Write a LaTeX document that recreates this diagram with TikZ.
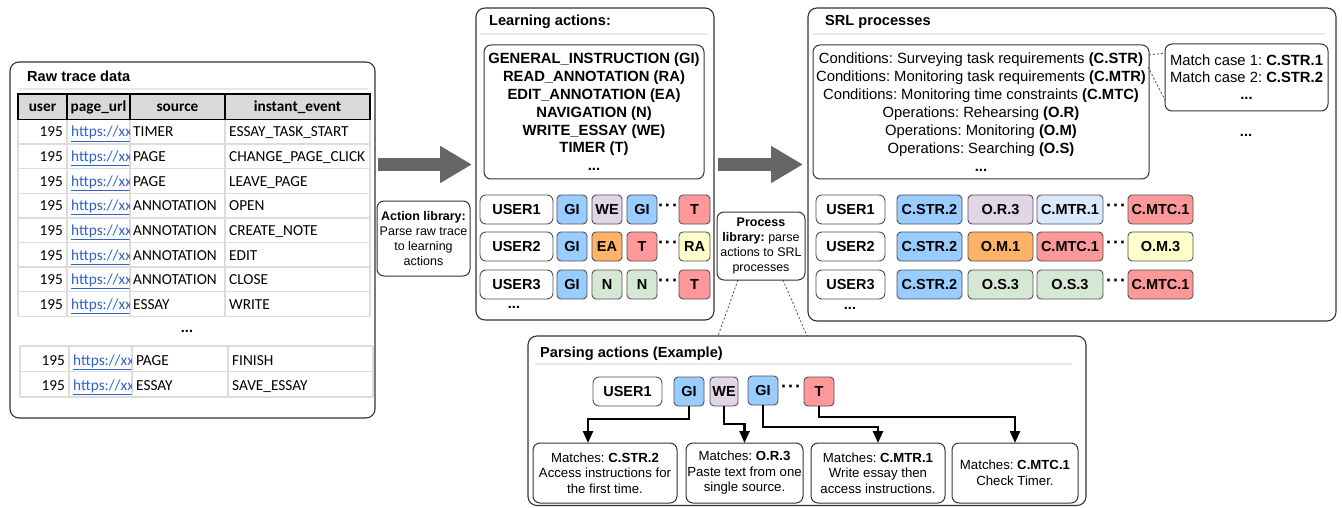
\documentclass[tikz,border=0pt]{standalone}
\usepackage{fontspec}
\setmainfont{Liberation Sans}
\newfontfamily\calibri{Carlito}
\usetikzlibrary{arrows.meta,calc}
\frenchspacing
\definecolor{cblue}{HTML}{99CCFF}
\definecolor{cpurple}{HTML}{E1D5E7}
\definecolor{corange}{HTML}{FFB366}
\definecolor{cred}{HTML}{FF9999}
\definecolor{cyellow}{HTML}{FFFFCC}
\definecolor{cgreen}{HTML}{D5E8D4}
\definecolor{clblue}{HTML}{DAE8FC}
\definecolor{cborder}{HTML}{333333}
\definecolor{cgrid}{HTML}{DCDCDC}
\definecolor{chead}{HTML}{D9D9D9}
\definecolor{clink}{HTML}{2F62C9}
\definecolor{carrow}{HTML}{666666}
\newcommand{\fsz}[2]{\fontsize{#1}{#2}\selectfont}
\newcommand{\rbox}[7]{\node[#2, minimum width={(#5)-(#3)}, minimum height={(#6)-(#4)}] (#1) at ({((#3)+(#5))/2},{((#4)+(#6))/2}) {#7};}
\newcommand{\mdots}{·\kern1pt·\kern1pt·}
\tikzset{
  panel/.style={draw=cborder, line width=1.1pt, rounded corners=9pt, fill=white, inner sep=0pt, outer sep=0pt},
  inbox/.style={draw=cborder, line width=1pt, rounded corners=7pt, fill=white, align=center, inner sep=0pt, outer sep=0pt},
  chip/.style={draw=cborder!85, line width=0.9pt, rounded corners=4pt, font=\fsz{14.5}{16}\bfseries, inner sep=0pt, outer sep=0pt},
  usr/.style={chip, fill=white, rounded corners=6pt},
  ptitle/.style={anchor=west, font=\fsz{14.6}{17}\bfseries, inner sep=0pt},
  tline/.style={line width=2pt, draw=black!9},
  tcell/.style={font=\calibri\fsz{15.3}{17}, inner sep=0pt},
  hcell/.style={font=\calibri\fsz{15.3}{17}\bfseries, inner sep=0pt, anchor=base},
  ell/.style={font=\fsz{14.5}{16}\bfseries, inner sep=0pt},
  mell/.style={font=\fsz{18}{18}\bfseries, inner sep=0pt},
  gridl/.style={draw=cgrid, line width=1.3pt},
  bigarr/.style={draw=carrow, line width=13pt, -{Triangle[length=32pt,width=35pt]}},
  arr/.style={line width=2.4pt, -{Triangle[length=12pt,width=10pt]}},
  dotl/.style={draw=black!70, line width=0.8pt, dash pattern=on 2pt off 2pt},
}
\begin{document}
\begin{tikzpicture}[x=1pt,y=-1pt]
\useasboundingbox (0,0) rectangle (1342,508);
% ---------------- Raw trace data
\rbox{raw}{panel}{10}{62}{375}{418}{}
\node[ptitle] (rawt) at (27,76) {Raw trace data};
\draw[tline] (18,89) -- (368,89);
\foreach \x in {18,67,130,225,370} \draw[gridl] (\x,119.5) -- (\x,316.3);
\foreach \k in {1,...,8} \draw[gridl] (18,{119.5+\k*24.6}) -- (370,{119.5+\k*24.6});
\draw[fill=chead, line width=1.5pt] (18,94) rectangle (370,119.5);
\foreach \x in {67,130,225} \draw[line width=1.5pt] (\x,94) -- (\x,119.5);
\node[hcell] (h1) at (42.5,112) {user};
\node[hcell] (h2) at (98.5,112) {page\_url};
\node[hcell] (h3) at (177.5,112) {source};
\node[hcell] (h4) at (297.5,112) {instant\_event};
\foreach \k/\s/\e in {1/TIMER/ESSAY\_TASK\_START, 2/PAGE/CHANGE\_PAGE\_CLICK, 3/PAGE/LEAVE\_PAGE, 4/ANNOTATION/OPEN, 5/ANNOTATION/CREATE\_NOTE, 6/ANNOTATION/EDIT, 7/ANNOTATION/CLOSE, 8/ESSAY/WRITE}{
  \pgfmathsetmacro\b{137+(\k-1)*24.6}
  \node[tcell, anchor=base east] (u\k) at (63,\b) {195};
  \begin{scope}
    \clip (67.7,119.5) rectangle (129.3,316.3);
    \node[tcell, anchor=base west] (l\k) at (71,\b) {\textcolor{clink}{\underline{https://xx}}};
  \end{scope}
  \node[tcell, anchor=base west] (s\k) at (133,\b) {\s};
  \node[tcell, anchor=base west] (e\k) at (229,\b) {\e};
}
\node[ell] (rawdots) at (187,331) {...};
\foreach \x in {20,69,132,228,373} \draw[gridl] (\x,346) -- (\x,397);
\foreach \y in {346,371.5,397} \draw[gridl] (20,\y) -- (373,\y);
\foreach \k/\s/\e in {1/PAGE/FINISH, 2/ESSAY/SAVE\_ESSAY}{
  \pgfmathsetmacro\b{365+(\k-1)*25}
  \node[tcell, anchor=base east] (uu\k) at (65,\b) {195};
  \begin{scope}
    \clip (69.7,346) rectangle (131.3,397);
    \node[tcell, anchor=base west] (ll\k) at (73,\b) {\textcolor{clink}{\underline{https://xx}}};
  \end{scope}
  \node[tcell, anchor=base west] (ss\k) at (136,\b) {\s};
  \node[tcell, anchor=base west] (ee\k) at (232,\b) {\e};
}
% ---------------- Big arrows and library boxes
\coordinate (a1s) at (378,164.5);
\coordinate (a1e) at (472,164.5);
\draw[bigarr] (a1s) -- (a1e);
\rbox{alib}{inbox, font=\fsz{12.5}{15}}{377}{201}{470}{276}{\textbf{Action library:}\\Parse raw trace\\to learning\\actions}
% ---------------- Learning actions
\rbox{lap}{panel}{476}{8}{714}{320}{}
\node[ptitle] (lapt) at (489,22) {Learning actions:};
\draw[tline] (480,34) -- (708,34);
\rbox{lai}{inbox, font=\fsz{14.8}{17.8}\bfseries}{484}{45}{704}{179}{GENERAL\_INSTRUCTION (GI)\\READ\_ANNOTATION (RA)\\EDIT\_ANNOTATION (EA)\\NAVIGATION (N)\\WRITE\_ESSAY (WE)\\TIMER (T)\\\mdseries\textbf{...}}
\rbox{lu1}{usr}{480}{195}{553}{224}{USER1}
\rbox{lu2}{usr}{480}{232}{553}{261}{USER2}
\rbox{lu3}{usr}{480}{270}{553}{299}{USER3}
\rbox{la11}{chip, fill=cblue}{557}{195}{587}{224}{GI}
\rbox{la12}{chip, fill=cpurple}{592}{195}{622}{224}{WE}
\rbox{la13}{chip, fill=cblue}{627}{195}{657}{224}{GI}
\node[mell] (ld1) at (668,208) {\mdots};
\rbox{la14}{chip, fill=cred}{679}{195}{710}{224}{T}
\rbox{la21}{chip, fill=cblue}{557}{232}{587}{261}{GI}
\rbox{la22}{chip, fill=corange}{592}{232}{622}{261}{EA}
\rbox{la23}{chip, fill=cred}{627}{232}{657}{261}{T}
\node[mell] (ld2) at (668,245) {\mdots};
\rbox{la24}{chip, fill=cyellow}{679}{232}{710}{261}{RA}
\rbox{la31}{chip, fill=cblue}{557}{270}{587}{299}{GI}
\rbox{la32}{chip, fill=cgreen}{592}{270}{622}{299}{N}
\rbox{la33}{chip, fill=cgreen}{627}{270}{657}{299}{N}
\node[mell] (ld3) at (668,283) {\mdots};
\rbox{la34}{chip, fill=cred}{679}{270}{710}{299}{T}
\node[ell] (lud) at (514,307) {...};
% ---------------- arrow 2 and process library
\coordinate (a2s) at (718,164.5);
\coordinate (a2e) at (803,164.5);
\draw[bigarr] (a2s) -- (a2e);
\rbox{plib}{inbox, font=\fsz{12.5}{14.7}}{717}{212}{805}{280}{\textbf{Process}\\\textbf{library:} parse\\actions to SRL\\processes}
% ---------------- SRL processes
\rbox{srl}{panel}{808}{8}{1336}{321}{}
\node[ptitle] (srlt) at (825,22) {SRL processes};
\draw[tline] (813,34) -- (1325,34);
\rbox{srli}{inbox, font=\fsz{14.8}{17.9}}{813}{45}{1149}{179}{Conditions: Surveying task requirements \textbf{(C.STR)}\\Conditions: Monitoring task requirements \textbf{(C.MTR)}\\Conditions: Monitoring time constraints \textbf{(C.MTC)}\\Operations: Rehearsing \textbf{(O.R)}\\Operations: Monitoring \textbf{(O.M)}\\Operations: Searching \textbf{(O.S)}\\\textbf{...}}
\rbox{mc}{inbox, font=\fsz{14.8}{17}}{1165}{44}{1328}{111}{Match case 1: \textbf{C.STR.1}\\Match case 2: \textbf{C.STR.2}\\\textbf{...}}
\draw[dotl] ($(srli.north east)+(0,10)$) -- ($(mc.north west)+(0,9)$);
\draw[dotl] ($(srli.north east)+(-1,22)$) -- ($(mc.south west)+(0,-11)$);
\node[ell] (srld) at (1246,135) {...};
\rbox{su1}{usr}{816}{195}{885}{224}{USER1}
\rbox{su2}{usr}{816}{232}{885}{261}{USER2}
\rbox{su3}{usr}{816}{270}{885}{299}{USER3}
\rbox{sp11}{chip, fill=cblue}{897}{195}{962}{224}{C.STR.2}
\rbox{sp12}{chip, fill=cpurple}{968}{195}{1033}{224}{O.R.3}
\rbox{sp13}{chip, fill=clblue}{1037}{195}{1103}{224}{C.MTR.1}
\node[mell] (sd1) at (1116,208) {\mdots};
\rbox{sp14}{chip, fill=cred}{1128}{195}{1193}{224}{C.MTC.1}
\rbox{sp21}{chip, fill=cblue}{897}{232}{962}{261}{C.STR.2}
\rbox{sp22}{chip, fill=corange}{968}{232}{1033}{261}{O.M.1}
\rbox{sp23}{chip, fill=cred}{1037}{232}{1103}{261}{C.MTC.1}
\node[mell] (sd2) at (1116,245) {\mdots};
\rbox{sp24}{chip, fill=cyellow}{1128}{232}{1193}{261}{O.M.3}
\rbox{sp31}{chip, fill=cblue}{897}{270}{962}{299}{C.STR.2}
\rbox{sp32}{chip, fill=cgreen}{968}{270}{1033}{299}{O.S.3}
\rbox{sp33}{chip, fill=cgreen}{1037}{270}{1103}{299}{O.S.3}
\node[mell] (sd3) at (1116,283) {\mdots};
\rbox{sp34}{chip, fill=cred}{1128}{270}{1193}{299}{C.MTC.1}
\node[ell] (sud) at (850,308) {...};
% ---------------- Parsing actions
\rbox{pap}{panel}{528}{336}{1086}{505.5}{}
\coordinate (d1e) at (718,336);
\coordinate (d2e) at (807,336);
\draw[dotl] ($(plib.south west)+(21,0)$) -- (d1e);
\draw[dotl] ($(plib.south east)+(-22,0)$) -- (d2e);
\node[ptitle] (papt) at (540,354) {Parsing actions (Example)};
\draw[tline] (535,364) -- (1072,364);
\rbox{pu1}{usr}{593}{377}{662}{406}{USER1}
\rbox{pg1}{chip, fill=cblue}{674}{377}{704}{406}{GI}
\rbox{pwe}{chip, fill=cpurple}{710}{377}{738}{406}{WE}
\rbox{pg2}{chip, fill=cblue}{748}{376}{778}{405}{GI}
\node[mell] (pd) at (791,389) {\mdots};
\rbox{pt}{chip, fill=cred}{804}{377}{834}{406}{T}
\rbox{pm1}{inbox, font=\fsz{13.2}{15.5}}{533}{443}{677}{503}{Matches: \textbf{C.STR.2}\\Access instructions for\\the first time.}
\rbox{pm2}{inbox, font=\fsz{13.2}{15.5}}{686}{443}{803}{503}{Matches: \textbf{O.R.3}\\Paste text from one\\single source.}
\rbox{pm3}{inbox, font=\fsz{13.2}{15.5}}{811}{443}{945}{503}{Matches: \textbf{C.MTR.1}\\Write essay then\\access instructions.}
\rbox{pm4}{inbox, font=\fsz{13.2}{16.5}}{952}{443}{1078}{503}{Matches: \textbf{C.MTC.1}\\Check Timer.}
\draw[arr] (pg1.south) -- ++(0,13) -| ($(pm1.north)+(-17,0)$);
\draw[arr] (pwe.south) -- ++(0,18) -| (pm2.north);
\draw[arr] (pg2.south) -- ++(0,22) -| (pm3.north);
\draw[arr] (pt.south) -- ++(0,11) -| (pm4.north);
\end{tikzpicture}
\end{document}
